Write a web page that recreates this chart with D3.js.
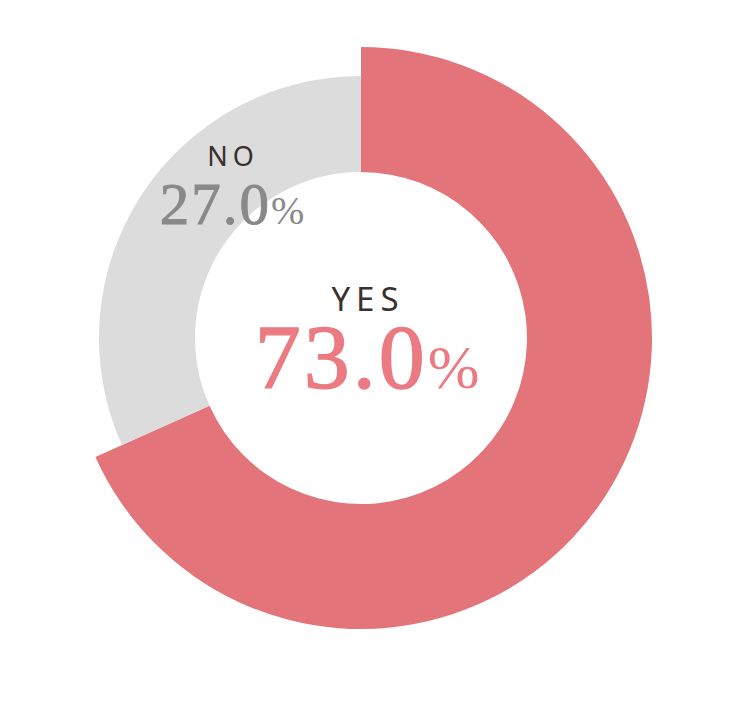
<!DOCTYPE html>
<meta charset="utf-8">
<style>
body { margin: 0; background: #fff; }
.cat { font-family: "Noto Sans", sans-serif; fill: #3a302c; }
.num { font-family: "Liberation Serif", serif; }
</style>
<svg width="749" height="717"></svg>
<script src="https://d3js.org/d3.v7.min.js"></script>
<script>

// answers and their labelled percentages
var answers = ["YES", "NO"];
var labelPct = [73.0, 27.0];
// arc sizes as they are drawn in the picture
var arcShare = [68.3, 31.7];
var colors = ["#e2747a", "#dcdcdc"];

var svg = d3.select("svg"),
    cx = 361, cy = 338;

var g = svg.append("g").attr("transform", "translate(" + cx + "," + cy + ")");

var pie = d3.pie().sort(null).value(function(d) { return d; });
var arcs = pie(arcShare);

var inner = 166;
var outer = [291, 262];

g.selectAll("path")
  .data(arcs)
  .enter().append("path")
    .attr("fill", function(d, i) { return colors[i]; })
    .attr("d", function(d, i) {
      return d3.arc().innerRadius(inner).outerRadius(outer[i])(d);
    });

// center label (YES)
g.append("text")
    .attr("class", "cat")
    .attr("x", 7).attr("y", -27)
    .attr("text-anchor", "middle")
    .style("font-size", "33px")
    .style("letter-spacing", "6px")
    .text(answers[0]);

var t1 = g.append("text")
    .attr("class", "num")
    .attr("x", 6).attr("y", 50)
    .attr("text-anchor", "middle")
    .attr("fill", "#eb7a82")
    .attr("stroke", "#eb7a82");
t1.append("tspan").style("font-size", "92px").style("letter-spacing", "3px")
    .attr("stroke-width", 1.4).text(labelPct[0].toFixed(1));
t1.append("tspan").style("font-size", "62px").attr("stroke-width", 0).text("%");

// NO label
g.append("text")
    .attr("class", "cat")
    .attr("x", -128).attr("y", -172)
    .attr("text-anchor", "middle")
    .style("font-size", "27px")
    .style("letter-spacing", "5px")
    .text(answers[1]);

var t2 = g.append("text")
    .attr("class", "num")
    .attr("x", -129).attr("y", -114)
    .attr("text-anchor", "middle")
    .attr("fill", "#898989")
    .attr("stroke", "#898989");
t2.append("tspan").style("font-size", "59px").style("letter-spacing", "2px")
    .attr("stroke-width", 1).text(labelPct[1].toFixed(1));
t2.append("tspan").style("font-size", "40px").attr("stroke-width", 0).text("%");

</script>
